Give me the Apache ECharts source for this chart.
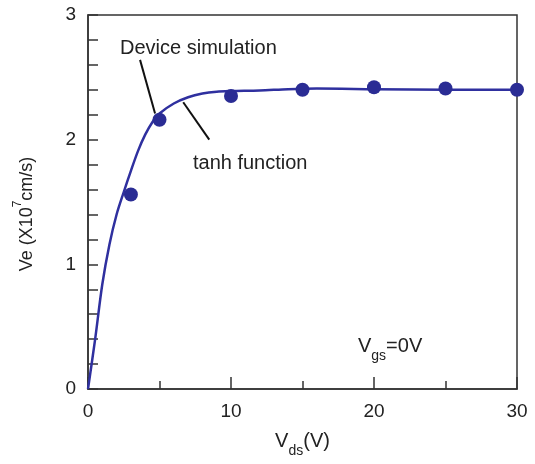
<!DOCTYPE html>
<html>
<head>
<meta charset="utf-8">
<script src="https://cdn.jsdelivr.net/npm/echarts@6/dist/echarts.min.js"></script>
<style>
  html, body { margin: 0; padding: 0; background: #fff; }
  #chart { width: 535px; height: 464px; }
</style>
</head>
<body>
<div id="chart"></div>
<script>
// Drain voltage (V) and electron velocity (x10^7 cm/s)
const simVds = [3, 5, 10, 15, 20, 25, 30];
const simVe = [1.56, 2.16, 2.35, 2.40, 2.42, 2.41, 2.40];

const fitVds = [0, 0.5, 1, 1.5, 2, 2.5, 3, 3.5, 4, 4.5, 5, 6, 7, 8, 9, 10, 12, 14, 16, 20, 25, 30];
const fitVe  = [0, 0.40, 0.84, 1.16, 1.40, 1.58, 1.75, 1.91, 2.04, 2.14, 2.21, 2.29, 2.34, 2.37, 2.385, 2.39, 2.395, 2.405, 2.41, 2.405, 2.40, 2.40];

const xTicks = { min: 0, max: 30, step: 10 };
const yTicks = { min: 0, max: 3, step: 1 };

// Annotation anchors in data units: [x, y]
const labelSim = { text: 'Device simulation', at: [2.24, 2.73], leader: [[3.64, 2.64], [4.69, 2.21]] };
const labelFit = { text: 'tanh function', at: [7.34, 1.81], leader: [[6.66, 2.30], [8.48, 2.0]] };
const labelBias = { at: [18.88, 0.315] };

const FONT = '"Liberation Sans", Arial, Helvetica, sans-serif';
const INK = '#222';
const AXIS = '#333';
const BLUE_LINE = '#2f309f';
const BLUE_DOT = '#2a2c94';

const chart = echarts.init(document.getElementById('chart'), null, { renderer: 'canvas' });

const axisCommon = {
  axisLine: { show: true, lineStyle: { color: AXIS, width: 1.5 } },
  splitLine: { show: false },
  axisLabel: { color: INK, fontSize: 19, fontFamily: FONT },
};

chart.setOption({
  animation: false,
  backgroundColor: '#fff',
  textStyle: { fontFamily: FONT },
  grid: {
    left: 88, right: 18, top: 15, bottom: 75,
    show: true, borderColor: AXIS, borderWidth: 1.5,
  },
  xAxis: Object.assign({}, axisCommon, {
    type: 'value',
    min: xTicks.min, max: xTicks.max, interval: xTicks.step,
    axisLabel: Object.assign({}, axisCommon.axisLabel, { margin: 13 }),
    axisTick: { show: true, inside: true, length: 12, lineStyle: { color: AXIS, width: 1.5 } },
    minorTick: { show: true, splitNumber: 2, length: 8, lineStyle: { color: AXIS, width: 1.5 } },
    name: '{v|V}{s|ds}{v|(V)}',
    nameLocation: 'middle',
    nameGap: 42,
    nameTextStyle: {
      rich: {
        v: { fontSize: 20, fontFamily: FONT, color: INK, verticalAlign: 'bottom', padding: [0, 0, 7, 0] },
        s: { fontSize: 14, fontFamily: FONT, color: INK, verticalAlign: 'bottom' },
      },
    },
  }),
  yAxis: Object.assign({}, axisCommon, {
    type: 'value',
    min: yTicks.min, max: yTicks.max, interval: yTicks.step,
    axisLabel: Object.assign({}, axisCommon.axisLabel, { margin: 12 }),
    axisTick: { show: true, inside: true, length: 10, lineStyle: { color: AXIS, width: 1.5 } },
    minorTick: { show: true, splitNumber: 5, length: 10, lineStyle: { color: AXIS, width: 1.5 } },
    name: '{b|Ve (X10}{p|7}{b|cm/s)}',
    nameLocation: 'middle',
    nameGap: 52,
    nameRotate: 90,
    nameTextStyle: {
      padding: [0, 24, 0, 0],
      rich: {
        b: { fontSize: 18, fontFamily: FONT, color: INK, verticalAlign: 'top', padding: [6, 0, 0, 0] },
        p: { fontSize: 12, fontFamily: FONT, color: INK, verticalAlign: 'top' },
      },
    },
  }),
  series: [
    {
      name: 'tanh function',
      type: 'line',
      data: fitVds.map((x, i) => [x, fitVe[i]]),
      smooth: 0.3,
      showSymbol: false,
      lineStyle: { color: BLUE_LINE, width: 2.5 },
      z: 2,
    },
    {
      name: 'Device simulation',
      type: 'scatter',
      data: simVds.map((x, i) => [x, simVe[i]]),
      symbol: 'circle',
      symbolSize: 14,
      itemStyle: { color: BLUE_DOT, opacity: 1 },
      z: 3,
    },
  ],
});

// Text labels and leader lines placed through the grid's coordinate system
function px(p) { return chart.convertToPixel({ gridIndex: 0 }, p); }

function leader(pair) {
  const a = px(pair[0]), b = px(pair[1]);
  return {
    type: 'line',
    shape: { x1: a[0], y1: a[1], x2: b[0], y2: b[1] },
    style: { stroke: '#111', lineWidth: 2 },
    z: 10,
  };
}

function label(text, at, rich) {
  const p = px(at);
  return {
    type: 'text',
    x: p[0], y: p[1],
    style: Object.assign({
      text: text,
      fill: INK,
      font: '20px ' + FONT,
      verticalAlign: 'middle',
      align: 'left',
    }, rich ? { rich: rich } : {}),
    z: 10,
  };
}

chart.setOption({
  graphic: [
    label(labelSim.text, labelSim.at),
    leader(labelSim.leader),
    label(labelFit.text, labelFit.at),
    leader(labelFit.leader),
    label('{v|V}{s|gs}{v|=0V}', labelBias.at, {
      v: { fontSize: 20, fontFamily: FONT, fill: INK, verticalAlign: 'bottom', padding: [0, 0, 7, 0] },
      s: { fontSize: 14, fontFamily: FONT, fill: INK, verticalAlign: 'bottom' },
    }),
  ],
});
</script>
</body>
</html>
